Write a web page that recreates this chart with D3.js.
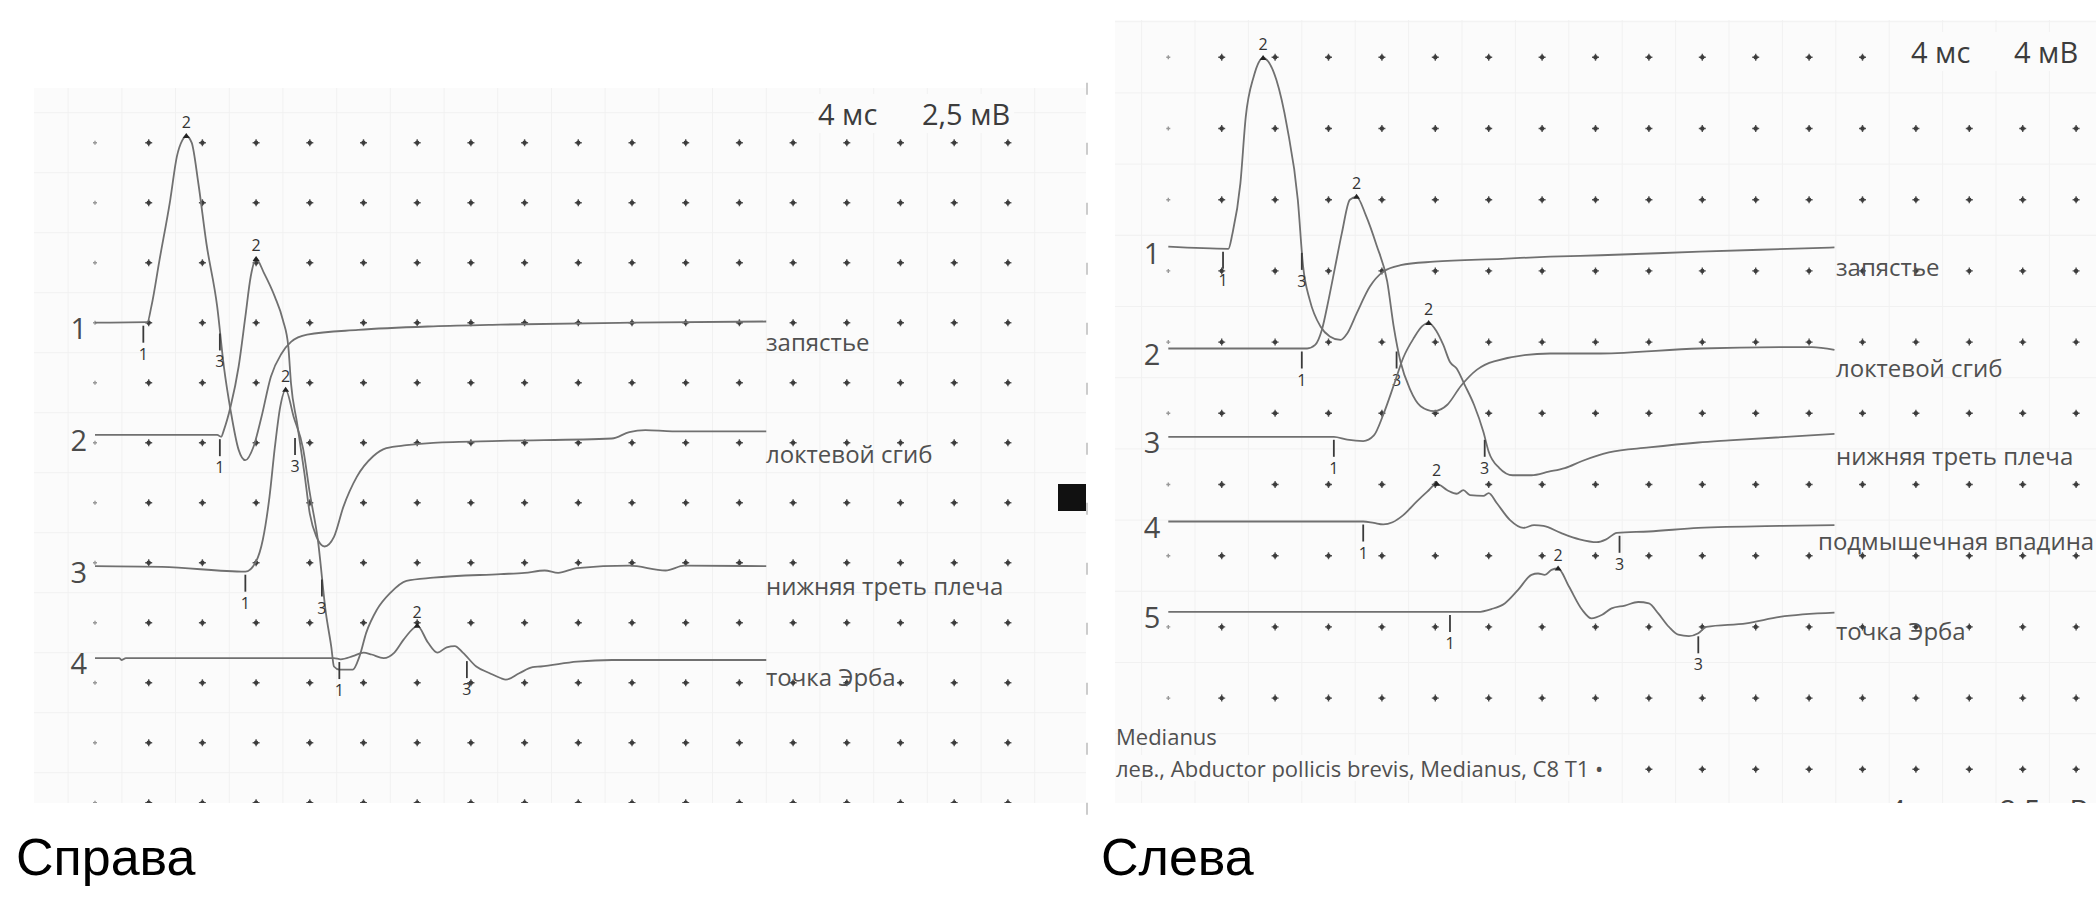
<!DOCTYPE html>
<html>
<head>
<meta charset="utf-8">
<script src="https://cdn.jsdelivr.net/npm/d3@7"></script>
<style>
  body { margin: 0; background: #fff; }
  svg { display: block; font-family: 'Open Sans', 'Noto Sans', sans-serif; }
</style>
</head>
<body>
<svg id="chart" width="2096" height="898"></svg>
<script>
/* ================================================
   Nerve conduction traces: time (ms) vs amplitude (mV),
   amplitude relative to each trace's own baseline
   ================================================ */

// ---- Справа: 4 ms / div, 2.5 mV / div ----
var leftSites = ['запястье', 'локтевой сгиб', 'нижняя треть плеча', 'точка Эрба'];
var leftOffsetsDiv = [3.0, 4.87, 7.07, 8.59];
var leftTrace1 = [[0,0],[3.9,0.02],[4.2,0.68],[4.8,2.6],[5.6,5.1],[6.1,6.93],[6.5,7.6],[6.8,7.78],[7.2,7.5],[7.7,5.8],[8.3,3.3],[9.1,0.68],[9.6,-1.83],[10.1,-3.65],[10.7,-5.3],[11.2,-5.73],[11.8,-5.18],[12.4,-3.93],[13.1,-2.25],[13.9,-1.28],[14.6,-0.8],[15.8,-0.5],[19.6,-0.3],[25.2,-0.15],[30.2,-0.08],[40,0],[50,0.05]];
var leftTrace2 = [[0,0],[9.1,0],[9.4,-0.08],[9.6,0.2],[10.1,1.18],[10.7,2.85],[11.2,4.93],[11.6,6.6],[12.0,7.33],[12.6,6.73],[13.4,5.75],[14.0,4.78],[14.4,3.68],[14.6,2.15],[15.05,0.5],[15.6,-1.6],[16.0,-3.28],[16.5,-4.25],[17.1,-4.65],[17.8,-4.25],[18.5,-3.0],[19.5,-1.75],[20.7,-0.9],[21.7,-0.55],[23.2,-0.43],[25.2,-0.33],[30.2,-0.25],[38.5,-0.15],[39.8,0.12],[41,0.2],[43,0.15],[50,0.15]];
var leftTrace3 = [[0,0.03],[5,0],[11.2,-0.2],[12.0,0.23],[12.5,1.13],[13.0,2.93],[13.4,5.0],[13.8,6.68],[14.2,7.38],[14.8,6.25],[15.5,4.93],[16.0,3.08],[16.6,1.13],[17.2,-1.93],[17.6,-3.33],[17.8,-4.15],[18.2,-4.28],[19.2,-4.28],[19.7,-3.73],[20.2,-2.75],[21.0,-1.78],[22.0,-1.08],[23.2,-0.58],[25.2,-0.45],[30.2,-0.3],[32,-0.25],[33.5,-0.15],[34.5,-0.25],[35.9,-0.05],[39.8,0.05],[42.5,-0.15],[43.9,0.05],[50,0.03]];
var leftTrace4 = [[0,0],[1.8,0],[2.0,-0.08],[2.3,0],[17.8,0],[18.3,-0.05],[19.2,0.08],[20.0,0.23],[20.6,0.15],[21.5,0],[22.3,0.23],[23.0,0.78],[23.8,1.28],[24.0,1.35],[24.8,0.65],[25.5,0.23],[26.2,0.45],[26.8,0.5],[27.4,0.23],[28.4,-0.35],[29.4,-0.63],[30.2,-0.83],[30.6,-0.9],[31.6,-0.63],[32.6,-0.38],[33.2,-0.35],[35.9,-0.15],[38.5,-0.08],[50,-0.08]];
var leftMarkersMs = [[3.6, 6.8, 9.3], [9.3, 12.0, 14.9], [11.2, 14.2, 16.9], [18.2, 24.0, 27.7]];
var leftScaleText = ['4 мс', '2,5 мВ'];

// ---- Слева: 4 ms / div, 4 mV / div ----
var rightSites = ['запястье', 'локтевой сгиб', 'нижняя треть плеча', 'подмышечная впадина', 'точка Эрба'];
var rightOffsetsDiv = [2.68, 4.09, 5.33, 6.52, 7.79];
var rightTrace1 = [[0,0.08],[4.5,-0.04],[4.8,0.8],[5.4,3.64],[5.8,7.36],[6.4,9.64],[7.1,10.68],[8.1,9.44],[8.9,6.8],[9.7,2.72],[10.1,-1.04],[10.6,-2.92],[11.4,-4.4],[12.1,-4.96],[12.9,-5.16],[13.4,-4.8],[14.1,-3.68],[15.1,-2.16],[16.1,-1.32],[17.4,-0.96],[19.9,-0.76],[25,-0.6],[28.6,-0.48],[32.4,-0.4],[39.8,-0.2],[48.3,0],[49.9,0.04]];
var rightTrace2 = [[0,0],[10.4,0],[11.0,0.2],[11.5,1.04],[12.0,2.72],[12.5,4.6],[13.0,6.48],[13.6,8.36],[14.1,8.52],[14.8,7.48],[15.6,5.8],[16.4,3.76],[16.9,1.16],[17.4,-0.76],[18.1,-2.28],[18.9,-3.24],[19.9,-3.52],[20.9,-3.16],[21.9,-2.12],[23.1,-1.2],[24.4,-0.72],[28.6,-0.28],[32.4,-0.28],[39.8,0],[48.2,0.08],[49.9,-0.08]];
var rightTrace3 = [[0,0],[12.4,0],[13.4,-0.16],[14.6,-0.24],[15.4,0.08],[16.1,1.24],[16.9,2.92],[17.6,4.44],[18.4,5.56],[19.0,6.2],[19.5,6.4],[20.1,5.92],[20.6,5.16],[21.1,4.2],[21.6,3.84],[22.2,2.92],[22.9,1.8],[23.6,0.28],[24.0,-0.84],[24.8,-1.76],[25.8,-2.16],[27.2,-2.16],[28.5,-1.96],[29.7,-1.76],[31.0,-1.36],[33.0,-0.88],[36.0,-0.6],[39.7,-0.32],[42.0,-0.2],[49.9,0.16]];
var rightTrace4 = [[0,0],[14.6,0],[15.4,-0.08],[16.1,-0.16],[16.8,-0.04],[17.6,0.36],[18.6,1.12],[19.4,1.68],[20.1,2.12],[20.9,1.76],[21.6,1.56],[22.1,1.76],[22.6,1.48],[23.6,1.44],[24.0,1.6],[24.6,1.04],[25.6,0.08],[26.6,-0.36],[27.4,-0.2],[28.1,-0.24],[29.4,-0.64],[30.8,-1.0],[32.1,-1.16],[32.8,-1.0],[33.6,-0.64],[36.0,-0.56],[39.7,-0.36],[46,-0.24],[49.9,-0.2]];
var rightTrace5 = [[0,0],[23.2,0],[24.2,0.16],[25.2,0.48],[26.2,1.24],[27.2,2.08],[27.7,2.16],[28.2,2.08],[28.7,2.36],[29.2,2.44],[30.0,1.44],[31.0,0.12],[31.7,-0.36],[32.5,-0.16],[33.2,0.2],[34.2,0.36],[35.2,0.56],[36.0,0.48],[36.7,-0.08],[37.5,-0.84],[38.2,-1.28],[39.0,-1.36],[39.7,-1.2],[40.3,-0.84],[43.3,-0.64],[45.8,-0.28],[49.9,-0.04]];
var rightMarkersMs = [[4.1, 7.1, 10.0], [10.0, 14.1, 17.1], [12.4, 19.5, 23.7], [14.6, 20.1, 33.8], [21.1, 29.2, 39.7]];
var rightScaleText = ['4 мс', '4 мВ'];
var rightInfo = ['Medianus', 'лев., Abductor pollicis brevis, Medianus, C8 T1 •'];

var panelTitles = ['Справа', 'Слева'];

// ---- layout ----
var svg = d3.select('#chart');
var defs = svg.append('defs');

var panels = [
  {
    id: 'left', box: [34, 88, 1086, 803],
    x0: 95, dx: 53.7, y0: 142.7, dy: 60, cols: 18, rows: 12,
    msPerDiv: 4, mvPerDiv: 2.5,
    traces: [leftTrace1, leftTrace2, leftTrace3, leftTrace4],
    offsets: leftOffsetsDiv, markers: leftMarkersMs, sites: leftSites,
    siteX: [766, 766, 766, 766],
    scaleText: leftScaleText, scaleX: [818, 922], scaleY: 125,
    title: panelTitles[0], titleX: 16
  },
  {
    id: 'right', box: [1115, 20, 2096, 803],
    x0: 1168.3, dx: 53.4, y0: 57.3, dy: 71.2, cols: 18, rows: 11,
    msPerDiv: 4, mvPerDiv: 4,
    traces: [rightTrace1, rightTrace2, rightTrace3, rightTrace4, rightTrace5],
    offsets: rightOffsetsDiv, markers: rightMarkersMs, sites: rightSites,
    siteX: [1836, 1836, 1836, 1818, 1836],
    scaleText: rightScaleText, scaleX: [1911, 2014], scaleY: 63,
    title: panelTitles[1], titleX: 1101
  }
];

function valueAt(tr, t) {
  var i = d3.bisector(function(d) { return d[0]; }).left(tr, t);
  if (i <= 0) return tr[0][1];
  if (i >= tr.length) return tr[tr.length - 1][1];
  var a = tr[i - 1], b = tr[i];
  return a[1] + (b[1] - a[1]) * (t - a[0]) / (b[0] - a[0]);
}

panels.forEach(function(p) {
  var b = p.box;
  defs.append('clipPath').attr('id', p.id + '-clip')
    .append('rect')
    .attr('x', b[0]).attr('y', b[1])
    .attr('width', b[2] - b[0]).attr('height', b[3] - b[1]);

  var g = svg.append('g').attr('clip-path', 'url(#' + p.id + '-clip)');

  g.append('rect')
    .attr('x', b[0]).attr('y', b[1])
    .attr('width', b[2] - b[0]).attr('height', b[3] - b[1])
    .attr('fill', '#fbfbfb');

  var x = d3.scaleLinear()
    .domain([0, (p.cols - 1) * p.msPerDiv])
    .range([p.x0, p.x0 + (p.cols - 1) * p.dx]);
  var yDiv = d3.scaleLinear()
    .domain([0, p.rows - 1])
    .range([p.y0, p.y0 + (p.rows - 1) * p.dy]);

  // faint background grid (between the dots)
  d3.range(-1, p.cols + 1).forEach(function(c) {
    var xx = x((c + 0.5) * p.msPerDiv);
    g.append('line')
      .attr('x1', xx).attr('x2', xx).attr('y1', b[1]).attr('y2', b[3])
      .attr('stroke', '#f1f1f1').attr('stroke-width', 1);
  });
  d3.range(-1, p.rows + 1).forEach(function(r) {
    var yy = yDiv(r + 0.5);
    g.append('line')
      .attr('x1', b[0]).attr('x2', b[2]).attr('y1', yy).attr('y2', yy)
      .attr('stroke', '#f1f1f1').attr('stroke-width', 1);
  });

  // dot grid
  var dots = [];
  d3.range(p.rows).forEach(function(r) {
    d3.range(p.cols).forEach(function(c) { dots.push([c, r]); });
  });
  var dg = g.selectAll('g.dot').data(dots).enter().append('g')
    .attr('class', 'dot')
    .attr('transform', function(d) { return 'translate(' + x(d[0] * p.msPerDiv) + ',' + yDiv(d[1]) + ')'; });
  dg.append('path')
    .attr('d', function(d) { return d[0] === 0 ? 'M-2,0H2M0,-2V2' : 'M-3.5,0H3.5M0,-3.5V3.5'; })
    .attr('stroke', function(d) { return d[0] === 0 ? '#999' : '#555'; })
    .attr('stroke-width', 1.4);
  dg.filter(function(d) { return d[0] > 0; }).append('circle')
    .attr('r', 2.2).attr('fill', '#3c3c3c');

  // scale caption
  var cap = g.append('g');
  var capBg = cap.append('rect').attr('fill', '#fbfbfb');
  p.scaleText.forEach(function(s, i) {
    cap.append('text')
      .attr('x', p.scaleX[i]).attr('y', p.scaleY)
      .attr('font-size', 29).attr('fill', '#3c3c3c')
      .text(s);
  });
  var cb = cap.node().getBBox();
  capBg.attr('x', cb.x - 4).attr('y', cb.y).attr('width', cb.width + 8).attr('height', cb.height);

  var line = d3.line().curve(d3.curveMonotoneX);

  p.traces.forEach(function(tr, i) {
    var off = p.offsets[i];
    var yv = function(v) { return yDiv(off - v / p.mvPerDiv); };
    var baseY = yv(0);

    g.append('path')
      .attr('d', line.x(function(d) { return x(d[0]); }).y(function(d) { return yv(d[1]); })(tr))
      .attr('fill', 'none')
      .attr('stroke', '#707070')
      .attr('stroke-width', 1.8);

    // row number
    g.append('text')
      .attr('x', p.x0 - 8).attr('y', baseY + 16)
      .attr('text-anchor', 'end')
      .attr('font-size', 29).attr('fill', '#4a4a4a')
      .text(i + 1);

    // site label
    g.append('text')
      .attr('x', p.siteX[i]).attr('y', baseY + 28)
      .attr('font-size', 24).attr('fill', '#505050')
      .text(p.sites[i]);

    // markers 1, 2, 3
    p.markers[i].forEach(function(t, k) {
      var mx = x(t), my = yv(valueAt(tr, t));
      if (k === 1) {
        g.append('path')
          .attr('d', 'M' + (mx - 3.5) + ',' + (my + 2) + 'L' + mx + ',' + (my - 3) + 'L' + (mx + 3.5) + ',' + (my + 2) + 'Z')
          .attr('fill', '#222');
        g.append('text')
          .attr('x', mx).attr('y', my - 8)
          .attr('text-anchor', 'middle')
          .attr('font-size', 16).attr('fill', '#333')
          .text('2');
      } else {
        var top = Math.max(my, baseY) + 3;
        g.append('line')
          .attr('x1', mx).attr('x2', mx)
          .attr('y1', top).attr('y2', top + 17)
          .attr('stroke', '#3a3a3a').attr('stroke-width', 1.8);
        g.append('text')
          .attr('x', mx).attr('y', top + 34)
          .attr('text-anchor', 'middle')
          .attr('font-size', 16).attr('fill', '#333')
          .text(k === 0 ? '1' : '3');
      }
    });
  });

  p.g = g;
  p.x = x;
  p.yDiv = yDiv;
});

// left panel extras: edge marks and the dark tab
var L = panels[0];
d3.range(-1, L.rows).forEach(function(r) {
  var yy = L.yDiv(r) + 6;
  svg.append('line')
    .attr('x1', 1087).attr('x2', 1087).attr('y1', yy - 6).attr('y2', yy + 6)
    .attr('stroke', '#bbb').attr('stroke-width', 1.5);
});
L.g.append('rect')
  .attr('x', 1058).attr('y', 484).attr('width', 28).attr('height', 27)
  .attr('fill', '#111');

// right panel extras: study description and cut-off caption at the bottom
var R = panels[1];
R.g.append('text')
  .attr('x', 1116).attr('y', 745)
  .attr('font-size', 22).attr('fill', '#505050')
  .text(rightInfo[0]);
var infoBg = R.g.append('rect').attr('fill', '#fbfbfb');
var info = R.g.append('text')
  .attr('x', 1116).attr('y', 777)
  .attr('font-size', 22).attr('fill', '#505050')
  .text(rightInfo[1]);
var ib = info.node().getBBox();
infoBg.attr('x', ib.x - 2).attr('y', ib.y + 2).attr('width', ib.width + 4).attr('height', ib.height - 4);

R.g.append('text')
  .attr('x', 1889).attr('y', 821)
  .attr('font-size', 29).attr('fill', '#444')
  .text('4 мс');
R.g.append('text')
  .attr('x', 2000).attr('y', 821)
  .attr('font-size', 29).attr('fill', '#444')
  .text('2,5 мВ');

// panel titles
panels.forEach(function(p) {
  svg.append('text')
    .attr('x', p.titleX).attr('y', 875)
    .attr('font-family', "'Liberation Sans', Arial, sans-serif")
    .attr('font-size', 52).attr('fill', '#000')
    .text(p.title);
});
</script>
</body>
</html>
